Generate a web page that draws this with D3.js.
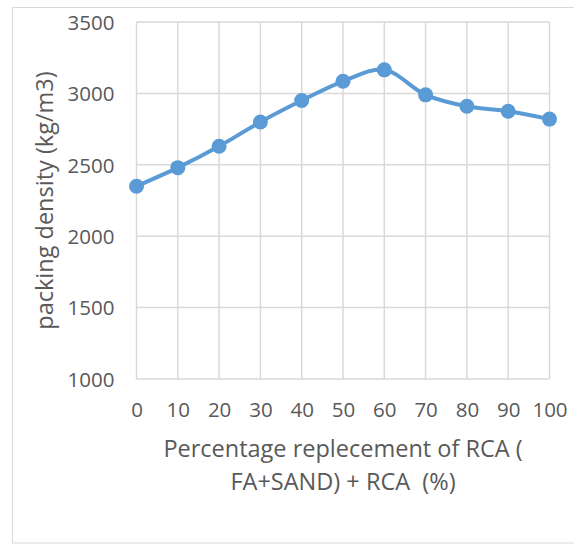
<!DOCTYPE html>
<html>
<head>
<meta charset="utf-8">
<script src="https://cdn.jsdelivr.net/npm/d3@7"></script>
<style>
  html, body { margin: 0; padding: 0; background: #fff; }
  svg { display: block; }
  text { font-family: "Open Sans", Lato, sans-serif; fill: #595959; }
</style>
</head>
<body>
<svg id="chart" width="574" height="544"></svg>
<script>
// Replacement percentage (categories)
const replacement = [0, 10, 20, 30, 40, 50, 60, 70, 80, 90, 100];
// Packing density, kg/m3
const packingDensity = [2350, 2480, 2630, 2800, 2950, 3085, 3165, 2990, 2910, 2875, 2820];
// Value axis ticks
const yTicks = [1000, 1500, 2000, 2500, 3000, 3500];
const yTitle = "packing density (kg/m3)";
const xTitleLines = ["Percentage replecement of RCA (", "FA+SAND) + RCA  (%)"];

const svg = d3.select("#chart");
const plot = { left: 136.5, right: 549.5, top: 22, bottom: 379 };
const font = "'Open Sans', Lato, sans-serif";

// chart frame
svg.append("rect")
  .attr("x", 12.5).attr("y", 7.5)
  .attr("width", 600).attr("height", 535.5)
  .attr("fill", "#fff")
  .attr("stroke", "#d9d9d9").attr("stroke-width", 1);

const x = d3.scalePoint().domain(replacement).range([plot.left, plot.right]);
const y = d3.scaleLinear().domain([1000, 3500]).range([plot.bottom, plot.top]);

// gridlines
const grid = svg.append("g").attr("stroke", "#d9d9d9").attr("stroke-width", 1.5);
grid.selectAll("line.v").data(replacement).join("line")
  .attr("class", "v")
  .attr("x1", d => x(d)).attr("x2", d => x(d))
  .attr("y1", plot.top).attr("y2", plot.bottom);
grid.selectAll("line.h").data(yTicks).join("line")
  .attr("class", "h")
  .attr("x1", plot.left).attr("x2", plot.right)
  .attr("y1", d => y(d)).attr("y2", d => y(d));

// y axis labels
const yAxis = svg.append("g").attr("transform", `translate(${plot.left - 22},0)`)
  .call(d3.axisLeft(y).tickValues(yTicks).tickFormat(d3.format("d")).tickSize(0).tickPadding(0));
yAxis.select(".domain").remove();
yAxis.selectAll("text")
  .attr("dy", "0.36em")
  .style("font-family", font)
  .style("font-size", "20.5px").attr("fill", "#595959");

// x axis labels
const xAxis = svg.append("g").attr("transform", `translate(0,${plot.bottom})`)
  .call(d3.axisBottom(x).tickSize(0).tickPadding(0));
xAxis.select(".domain").remove();
xAxis.selectAll("text")
  .attr("y", 417 - plot.bottom).attr("dy", 0)
  .style("font-family", font)
  .style("font-size", "20.5px").attr("fill", "#595959");

// axis titles
svg.append("text")
  .attr("transform", `translate(53,${(plot.top + plot.bottom) / 2}) rotate(-90)`)
  .attr("text-anchor", "middle")
  .style("font-size", "23.5px")
  .text(yTitle);

svg.selectAll("text.xtitle").data(xTitleLines).join("text")
  .attr("class", "xtitle")
  .attr("x", 343)
  .attr("y", (d, i) => 457 + i * 33)
  .attr("text-anchor", "middle")
  .style("font-size", "23.5px")
  .style("white-space", "pre")
  .text(d => d);

// smoothed series line
const pts = replacement.map((r, i) => [x(r), y(packingDensity[i])]);
svg.append("path")
  .attr("d", d3.line().curve(d3.curveCatmullRom.alpha(0.5))(pts))
  .attr("fill", "none")
  .attr("stroke", "#5b9bd5")
  .attr("stroke-width", 4)
  .attr("stroke-linejoin", "round");

// markers
svg.selectAll("circle.pt").data(pts).join("circle")
  .attr("class", "pt")
  .attr("cx", d => d[0]).attr("cy", d => d[1])
  .attr("r", 7.5)
  .attr("fill", "#5b9bd5");
</script>
</body>
</html>
